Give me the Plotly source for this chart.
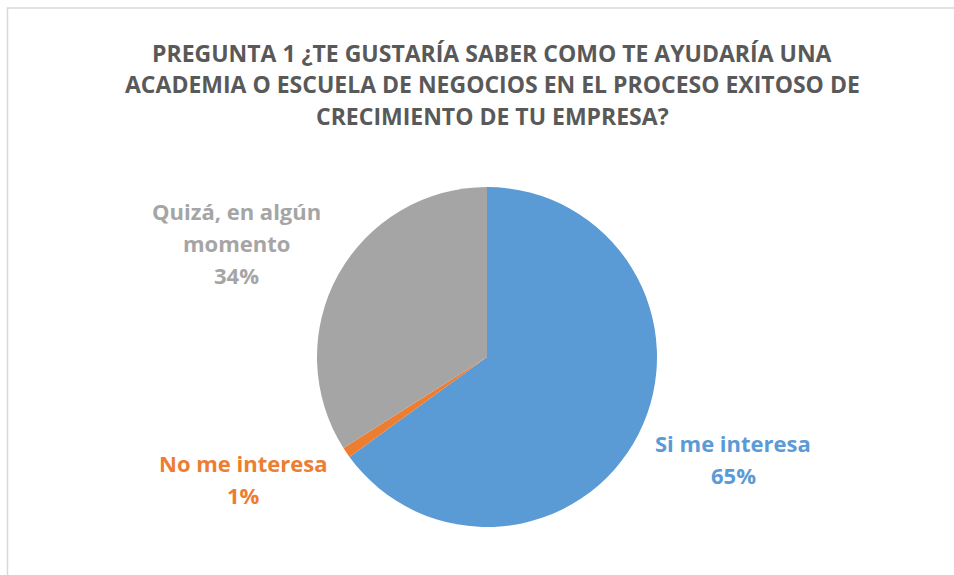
import plotly.graph_objects as go

labels = ["Si me interesa", "No me interesa", "Quizá, en algún momento"]
label_lines = [["Si me interesa"], ["No me interesa"], ["Quizá, en algún", "momento"]]
values = [65, 1, 34]
colors = ["#5B9BD5", "#ED7D31", "#A5A5A5"]
title_lines = ["PREGUNTA 1 ¿TE GUSTARÍA SABER COMO TE AYUDARÍA UNA",
               "ACADEMIA O ESCUELA DE NEGOCIOS EN EL PROCESO EXITOSO DE",
               "CRECIMIENTO DE TU EMPRESA?"]

W, H = 954, 575
cx, cy, r = 487, 357, 170

fig = go.Figure(go.Pie(
    labels=labels, values=values, sort=False, direction="clockwise", rotation=0,
    marker=dict(colors=colors, line=dict(width=0)),
    textinfo="none", hoverinfo="label+percent", showlegend=False,
    domain=dict(x=[(cx - r) / W, (cx + r) / W], y=[(H - cy - r) / H, (H - cy + r) / H]),
))

# (x center, first line y, line spacing)
label_pos = [(733, 443, 31.5), (243.5, 463, 32), (236, 211, 32)]
total = sum(values)
for lines, v, c, (px, py, dy) in zip(label_lines, values, colors, label_pos):
    all_lines = lines + [f"{round(100 * v / total)}%"]
    for i, t in enumerate(all_lines):
        fig.add_annotation(
            x=px / W, y=1 - (py + i * dy) / H, xref="paper", yref="paper",
            text=f"<b>{t}</b>", showarrow=False,
            font=dict(family="Open Sans", size=22, color=c),
            align="center", xanchor="center", yanchor="middle",
        )

for i, t in enumerate(title_lines):
    fig.add_annotation(
        x=492 / W, y=1 - (52.5 + 31.5 * i) / H, xref="paper", yref="paper",
        text=f"<b>{t}</b>", showarrow=False,
        font=dict(family="Open Sans", size=23, color="#595959"),
        align="center", xanchor="center", yanchor="middle",
    )

fig.add_shape(type="rect", xref="paper", yref="paper",
              x0=7.5 / W, x1=1.02, y0=-0.02, y1=1 - 8 / H,
              line=dict(color="#D9D9D9", width=1.5), fillcolor="rgba(0,0,0,0)")

fig.update_layout(
    width=W, height=H, margin=dict(l=0, r=0, t=0, b=0),
    paper_bgcolor="white", plot_bgcolor="white",
)

fig.write_html("out.html", config={"displayModeBar": False},
               post_script="document.body.style.margin='0';document.body.style.overflow='hidden';")
